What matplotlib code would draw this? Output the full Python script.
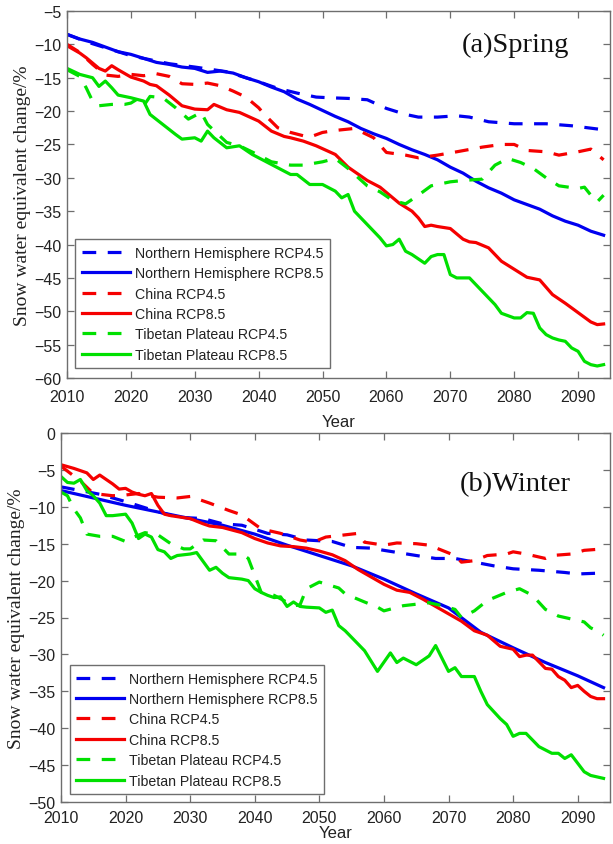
import matplotlib
matplotlib.use("Agg")
import matplotlib.pyplot as plt

# ---------------- data: (a) Spring ----------------
sp_nh45_yr = [2010, 2013, 2017, 2020, 2023, 2026, 2030, 2035, 2038, 2040, 2043, 2046, 2049, 2051,
              2054, 2057, 2060, 2063, 2065, 2068, 2071, 2073, 2076, 2080, 2085, 2089, 2094]
sp_nh45 = [-8.5, -9.6, -10.8, -11.7, -12.3, -12.9, -13.4, -14.1, -15.0, -15.6, -16.6, -17.3, -17.9, -18.0,
           -18.1, -18.3, -19.6, -20.5, -20.9, -20.9, -20.7, -20.9, -21.6, -21.9, -21.9, -22.2, -22.8]

sp_nh85_yr = [2010, 2012, 2014, 2016, 2018, 2020, 2022, 2024, 2026, 2028, 2030, 2032, 2034, 2036, 2038,
              2040, 2042, 2044, 2046, 2048, 2050, 2052, 2054, 2056, 2058, 2060, 2062, 2064, 2066, 2068,
              2070, 2072, 2074, 2076, 2078, 2080, 2082, 2084, 2086, 2088, 2090, 2092, 2094]
sp_nh85 = [-8.5, -9.2, -9.7, -10.4, -11.1, -11.5, -12.1, -12.7, -13.0, -13.4, -13.6, -14.2, -14.0, -14.3, -15.0,
           -15.6, -16.4, -17.1, -18.2, -19.0, -19.9, -20.8, -21.6, -22.6, -23.4, -24.1, -25.0, -25.8, -26.5, -27.3,
           -28.4, -29.3, -30.5, -31.5, -32.3, -33.3, -34.0, -34.7, -35.7, -36.5, -37.1, -38.0, -38.6]

sp_cn45_yr = [2010, 2012, 2014, 2016, 2018, 2020, 2022, 2024, 2026, 2028, 2030, 2032, 2034, 2036, 2038,
              2040, 2041, 2043, 2045, 2047, 2048, 2050, 2052, 2055, 2058, 2060, 2063, 2065, 2068, 2071,
              2075, 2078, 2080, 2082, 2085, 2087, 2090, 2092, 2094]
sp_cn45 = [-10.0, -11.2, -13.0, -14.6, -14.8, -14.5, -14.7, -14.4, -14.8, -15.9, -16.0, -15.8, -16.2, -17.0, -17.9,
           -19.5, -20.6, -22.5, -23.2, -23.7, -23.9, -23.2, -22.9, -22.6, -24.0, -26.2, -26.6, -27.0, -26.6, -26.1,
           -25.4, -25.0, -25.0, -25.9, -26.1, -26.6, -26.1, -25.7, -27.3]

sp_cn85_yr = [2010, 2012, 2013, 2014, 2015, 2016, 2017, 2018, 2020, 2022, 2023, 2024, 2026, 2028, 2030,
              2032, 2033, 2035, 2037, 2040, 2042, 2044, 2045, 2047, 2049, 2052, 2054, 2057, 2059, 2060,
              2062, 2064, 2065, 2066, 2067, 2068, 2070, 2072, 2073, 2074, 2076, 2078, 2080, 2082, 2084,
              2086, 2088, 2090, 2092, 2093, 2094]
sp_cn85 = [-10.2, -11.3, -12.0, -12.8, -13.6, -14.0, -13.2, -13.8, -14.9, -15.5, -16.0, -16.2, -17.6, -19.2, -19.7,
           -19.8, -19.0, -19.8, -20.2, -21.5, -23.0, -23.8, -24.0, -24.5, -25.2, -26.5, -28.4, -30.4, -31.4, -32.2,
           -33.8, -35.0, -36.0, -37.3, -37.1, -37.3, -37.6, -39.2, -39.6, -39.7, -40.5, -42.5, -43.7, -44.9, -45.3,
           -47.5, -48.8, -50.2, -51.6, -52.0, -51.9]

sp_tp45_yr = [2010, 2012, 2013, 2014, 2015, 2017, 2019, 2020, 2021, 2022, 2023, 2025, 2027, 2029, 2031,
              2032, 2035, 2037, 2040, 2042, 2045, 2047, 2050, 2052, 2054, 2057, 2059, 2061, 2063, 2065,
              2067, 2070, 2072, 2075, 2077, 2079, 2081, 2083, 2085, 2087, 2090, 2091, 2092, 2093, 2094]
sp_tp45 = [-13.8, -14.8, -16.5, -18.5, -19.2, -19.0, -19.0, -18.8, -18.2, -19.2, -17.8, -18.0, -19.5, -21.2, -20.2,
           -22.0, -24.7, -25.2, -26.6, -27.6, -28.1, -28.1, -27.6, -27.1, -28.6, -31.2, -32.1, -33.4, -33.9, -32.6,
           -31.2, -30.6, -30.4, -30.2, -28.1, -27.1, -27.7, -28.6, -30.0, -31.2, -31.6, -31.4, -32.6, -33.6, -32.6]

sp_tp85_yr = [2010, 2012, 2014, 2015, 2016, 2017, 2018, 2020, 2022, 2023, 2025, 2027, 2028, 2030, 2031,
              2032, 2033, 2035, 2037, 2039, 2040, 2042, 2043, 2045, 2046, 2048, 2050, 2052, 2053, 2054,
              2055, 2057, 2059, 2060, 2061, 2062, 2063, 2064, 2066, 2067, 2068, 2069, 2070, 2071, 2073,
              2074, 2076, 2077, 2078, 2080, 2081, 2082, 2083, 2084, 2085, 2086, 2087, 2088, 2089, 2090,
              2091, 2092, 2093, 2094]
sp_tp85 = [-13.6, -14.5, -15.0, -16.3, -15.5, -16.5, -17.6, -18.0, -18.5, -20.5, -22.0, -23.5, -24.2, -24.0, -24.5,
           -23.0, -24.0, -25.5, -25.2, -26.5, -27.0, -28.0, -28.5, -29.5, -29.5, -31.0, -31.0, -32.0, -33.0, -32.5,
           -35.0, -37.0, -39.0, -40.2, -40.0, -39.2, -41.0, -41.5, -42.8, -41.8, -41.5, -41.5, -44.5, -45.0, -45.0,
           -46.0, -48.0, -49.0, -50.3, -51.0, -51.0, -50.2, -50.3, -52.5, -53.5, -54.0, -54.3, -54.5, -55.5, -56.0,
           -57.5, -58.0, -58.2, -58.0]

# ---------------- data: (b) Winter ----------------
wi_nh45_yr = [2010, 2013, 2016, 2020, 2024, 2028, 2032, 2035, 2038, 2042, 2045, 2048, 2052, 2055, 2058,
              2060, 2065, 2068, 2071, 2074, 2077, 2080, 2084, 2088, 2090, 2093, 2094]
wi_nh45 = [-7.3, -7.8, -8.3, -9.3, -10.4, -11.4, -11.6, -12.3, -12.5, -13.6, -13.8, -14.5, -14.7, -15.5, -15.6,
           -15.9, -16.6, -17.0, -17.0, -17.5, -18.0, -18.4, -18.6, -18.9, -19.1, -19.0, -18.9]

wi_nh85_yr = [2010, 2015, 2020, 2025, 2030, 2035, 2040, 2045, 2050, 2055, 2060, 2065, 2070, 2075, 2080,
              2085, 2090, 2094]
wi_nh85 = [-7.8, -8.8, -9.8, -10.7, -11.6, -12.5, -13.7, -15.2, -16.6, -18.0, -19.8, -21.8, -23.7, -27.0, -29.1,
           -31.1, -32.9, -34.5]

wi_cn45_yr = [2010, 2013, 2015, 2018, 2020, 2022, 2025, 2028, 2030, 2033, 2036, 2038, 2041, 2044, 2047,
              2049, 2051, 2053, 2056, 2057, 2060, 2062, 2065, 2067, 2069, 2071, 2072, 2074, 2076, 2079,
              2080, 2082, 2085, 2086, 2089, 2091, 2094]
wi_cn45 = [-4.5, -6.5, -8.2, -8.5, -8.4, -8.2, -8.7, -8.8, -8.6, -9.5, -10.5, -11.1, -13.0, -13.6, -14.5,
           -14.8, -14.1, -13.9, -13.6, -14.8, -15.2, -14.9, -15.0, -15.2, -15.9, -16.6, -17.5, -17.3, -16.6, -16.4,
           -16.1, -16.4, -17.0, -16.6, -16.4, -15.9, -15.7]

wi_cn85_yr = [2010, 2012, 2014, 2015, 2016, 2018, 2019, 2020, 2021, 2022, 2023, 2024, 2025, 2026, 2027,
              2030, 2032, 2033, 2035, 2038, 2040, 2042, 2044, 2046, 2048, 2050, 2052, 2054, 2056, 2058,
              2060, 2062, 2064, 2066, 2068, 2070, 2072, 2074, 2075, 2076, 2078, 2080, 2081, 2082, 2083,
              2085, 2086, 2087, 2088, 2089, 2090, 2091, 2092, 2093, 2094]
wi_cn85 = [-4.3, -4.8, -5.4, -6.3, -5.7, -6.9, -7.6, -7.5, -8.0, -8.3, -8.5, -8.2, -9.8, -11.0, -11.2,
           -11.6, -12.3, -12.6, -12.8, -13.5, -14.3, -14.9, -15.3, -15.4, -15.6, -16.0, -16.5, -17.3, -18.5, -19.5,
           -20.5, -21.3, -21.6, -22.5, -23.5, -24.5, -25.5, -26.8, -27.1, -27.4, -28.9, -29.3, -30.3, -30.1, -30.1,
           -31.9, -32.0, -33.0, -33.5, -34.5, -34.2, -35.0, -35.7, -36.0, -36.0]

wi_tp45_yr = [2010, 2011, 2012, 2013, 2014, 2016, 2018, 2020, 2021, 2023, 2025, 2027, 2029, 2030, 2032,
              2034, 2036, 2038, 2039, 2040, 2041, 2043, 2046, 2047, 2048, 2050, 2053, 2054, 2057, 2059,
              2060, 2063, 2065, 2067, 2069, 2071, 2072, 2074, 2076, 2079, 2081, 2083, 2085, 2087, 2089,
              2091, 2092, 2093, 2094]
wi_tp45 = [-8.0, -8.5, -10.3, -11.5, -13.7, -14.0, -14.0, -14.7, -14.2, -13.5, -13.8, -15.0, -15.7, -15.7, -14.5,
           -14.6, -16.4, -16.4, -17.0, -19.3, -21.6, -22.0, -23.4, -23.3, -21.1, -20.2, -21.0, -21.8, -22.9, -23.6,
           -24.1, -23.4, -23.2, -23.0, -23.4, -23.9, -25.0, -24.1, -22.7, -21.6, -21.1, -22.0, -23.9, -24.8, -25.2,
           -25.6, -26.4, -26.8, -27.4]

wi_tp85_yr = [2010, 2011, 2012, 2013, 2014, 2015, 2016, 2017, 2018, 2020, 2021, 2022, 2023, 2024, 2025,
              2026, 2027, 2028, 2030, 2031, 2033, 2034, 2035, 2036, 2038, 2039, 2040, 2041, 2042, 2043,
              2044, 2045, 2046, 2047, 2048, 2050, 2051, 2052, 2053, 2054, 2056, 2057, 2059, 2061, 2062,
              2063, 2065, 2067, 2068, 2070, 2071, 2072, 2074, 2075, 2076, 2078, 2079, 2080, 2081, 2082,
              2084, 2086, 2087, 2088, 2089, 2091, 2092, 2094]
wi_tp85 = [-5.9, -6.7, -6.8, -6.3, -7.8, -8.5, -9.5, -11.2, -11.2, -11.0, -12.2, -14.3, -13.7, -14.1, -15.8,
           -16.1, -17.0, -16.6, -16.4, -16.2, -18.6, -18.2, -19.0, -19.6, -19.8, -20.0, -21.1, -21.6, -22.0, -22.3,
           -22.2, -23.5, -22.9, -23.5, -23.6, -23.7, -24.3, -24.0, -26.1, -26.8, -28.6, -29.5, -32.3, -29.8, -31.1,
           -30.5, -31.4, -30.2, -28.8, -32.3, -31.8, -33.0, -33.0, -35.0, -36.8, -38.7, -39.5, -41.1, -40.7, -40.7,
           -42.5, -43.4, -43.4, -44.1, -43.6, -45.9, -46.4, -46.8]

labels = ["Northern Hemisphere RCP4.5", "Northern Hemisphere RCP8.5", "China RCP4.5",
          "China RCP8.5", "Tibetan Plateau RCP4.5", "Tibetan Plateau RCP8.5"]
xticks = list(range(2010, 2091, 10))

# ---------------- styling ----------------
BLUE, RED, GREEN = "#0000f0", "#f50000", "#00e000"
LW = 2.3
DASH = (0, (4.3, 3.6))
SPINE = "#6e6e6e"
SANS = ["Liberation Sans", "DejaVu Sans"]
SERIF = ["Liberation Serif", "DejaVu Serif"]

fig = plt.figure(figsize=(6.13, 8.45), dpi=100)
ax1 = fig.add_axes([67 / 613, 1 - 379 / 845, (610 - 67) / 613, (379 - 12) / 845])
ax2 = fig.add_axes([61 / 613, 1 - 803 / 845, (610 - 61) / 613, (803 - 434) / 845])

panels = [
    (ax1, [(sp_nh45_yr, sp_nh45), (sp_nh85_yr, sp_nh85), (sp_cn45_yr, sp_cn45),
           (sp_cn85_yr, sp_cn85), (sp_tp45_yr, sp_tp45), (sp_tp85_yr, sp_tp85)],
     (-60, -5), range(-60, -4, 5), "(a)Spring", 0.91, (0.015, 0.027), 8, 7),
    (ax2, [(wi_nh45_yr, wi_nh45), (wi_nh85_yr, wi_nh85), (wi_cn45_yr, wi_cn45),
           (wi_cn85_yr, wi_cn85), (wi_tp45_yr, wi_tp45), (wi_tp85_yr, wi_tp85)],
     (-50, 0), range(-50, 1, 5), "(b)Winter", 0.862, (0.016, 0.022), 5.5, 0.5),
]
colors = [BLUE, BLUE, RED, RED, GREEN, GREEN]
styles = [DASH, "-", DASH, "-", DASH, "-"]

for ax, series, ylim, yt, title, ty, lpos, xpad, xlpad in panels:
    for (x, y), c, ls, lab in zip(series, colors, styles, labels):
        ax.plot(x, y, color=c, linestyle=ls, lw=LW, label=lab, solid_joinstyle="round")
    ax.set_xlim(2010, 2095)
    ax.set_ylim(*ylim)
    ax.set_xticks(xticks)
    ax.set_yticks(list(yt))
    ax.tick_params(direction="in", top=True, right=True, length=5, width=0.9,
                   color=SPINE, labelsize=11.5, labelcolor="#222222", pad=4)
    ax.tick_params(axis="x", pad=xpad)
    for lab in ax.get_xticklabels() + ax.get_yticklabels():
        lab.set_family(SANS)
    for s in ax.spines.values():
        s.set_color(SPINE)
        s.set_linewidth(1.0)
    ax.set_xlabel("Year", family=SANS, fontsize=12, color="#222222", labelpad=xlpad)
    ax.set_ylabel("Snow water equivalent change/%", family=SERIF, fontsize=14,
                  color="#222222", labelpad=2)
    ax.text(0.727, ty, title, transform=ax.transAxes, family=SERIF, fontsize=20.5,
            va="center", ha="left", color="#111111")
    leg = ax.legend(loc="lower left", bbox_to_anchor=lpos, borderaxespad=0,
                    prop={"family": SANS, "size": 10.2}, handlelength=3.4, handletextpad=0.35,
                    labelspacing=0.45, borderpad=0.45, fancybox=False, framealpha=1)
    leg.get_frame().set_edgecolor(SPINE)
    leg.get_frame().set_linewidth(1.0)
    for t in leg.get_texts():
        t.set_color("#222222")

fig.savefig("out.png", dpi=100)
